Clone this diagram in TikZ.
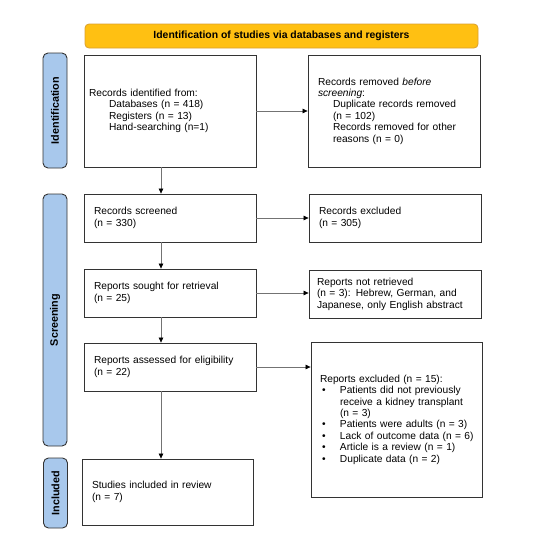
\documentclass[tikz,border=0pt]{standalone}
\usepackage{fontspec}
\setmainfont{Liberation Sans}
\usepackage{tikz}
\usetikzlibrary{arrows.meta,positioning,calc}
\definecolor{bannerfill}{HTML}{FFC012}
\definecolor{bannerline}{HTML}{D9A030}
\definecolor{barfill}{HTML}{A8C8EC}

\begin{document}
\begin{tikzpicture}[
    x=1pt, y=-1pt,
    stage/.style={draw=black!80, line width=0.8pt, fill=white, align=left, font=\fontsize{10.2}{11.4}\selectfont, inner xsep=10pt, text width=152pt, minimum height=48pt},
    phase/.style={draw=black!80, line width=0.9pt, fill=barfill, rounded corners=5pt, rotate=90, font=\bfseries\fontsize{10.8}{12}\selectfont, minimum height=24pt, inner sep=0pt},
    banner/.style={draw=bannerline, line width=0.8pt, fill=bannerfill, rounded corners=4pt, font=\bfseries\fontsize{10.4}{12}\selectfont, minimum width=393pt, minimum height=24pt},
    arr/.style={draw=black!55, line width=0.7pt, -{Triangle[length=5pt, width=4.5pt, color=black]}}
]
\useasboundingbox (0,0) rectangle (533,555);

\node[banner] (head) at (281.5,36) {Identification of studies via databases and registers};

\node[phase, minimum width=115pt] (idbar) at (55,110.5) {Identification};
\node[phase, minimum width=252pt] (scrbar) at (55,320) {Screening};
\node[phase, minimum width=70pt] (incbar) at (55.5,493) {Included};

\node[stage, inner xsep=5pt, text width=162pt, minimum height=112pt] (ident) at (170,111) {Records identified from:\\\hspace*{20pt}Databases (n = 418)\\\hspace*{20pt}Registers (n = 13)\\\hspace*{20pt}Hand-searching (n=1)};
\node[stage, minimum height=112pt] (removed) at (394,111) {Records removed \textit{before}\\\textit{screening}:\\\hspace*{15pt}Duplicate records removed\\\hspace*{15pt}(n = 102)\\\hspace*{15pt}Records removed for other\\\hspace*{15pt}reasons (n = 0)};

\node[stage] (screened) at (170,218) {Records screened\\(n = 330)};
\node[stage] (excluded) at (395,218) {Records excluded\\(n = 305)};

\node[stage] (sought) at (170,293) {Reports sought for retrieval\\(n = 25)};
\node[stage, inner xsep=8pt, text width=156pt] (notret) at (395,294) {Reports not retrieved\\(n = 3): Hebrew, German, and\\Japanese, only English abstract};

\node[stage] (assessed) at (170,367) {Reports assessed for eligibility\\(n = 22)};
\node[stage, inner xsep=9pt, text width=153pt, minimum height=155pt] (repexcl) at (396.5,419.5) {Reports excluded (n = 15):\\\makebox[20pt][l]{\hspace{2pt}\textbullet}Patients did not previously\\\hspace*{20pt}receive a kidney transplant\\\hspace*{20pt}(n = 3)\\\makebox[20pt][l]{\hspace{2pt}\textbullet}Patients were adults (n = 3)\\\makebox[20pt][l]{\hspace{2pt}\textbullet}\mbox{Lack of outcome data (n = 6)}\\\makebox[20pt][l]{\hspace{2pt}\textbullet}Article is a review (n = 1)\\\makebox[20pt][l]{\hspace{2pt}\textbullet}Duplicate data (n = 2)};

\node[stage, text width=151pt, minimum height=66pt] (included) at (167.5,492) {Studies included in review\\(n = 7)};

\draw[arr] (ident) -- (removed);
\draw[arr] ([xshift=-9pt]ident.south) -- ([xshift=-9pt]screened.north);
\draw[arr] (screened) -- (excluded);
\draw[arr] ([xshift=-9pt]screened.south) -- ([xshift=-9pt]sought.north);
\draw[arr] (sought.east) -- (sought.east -| notret.west);
\draw[arr] ([xshift=-9pt]sought.south) -- ([xshift=-9pt]assessed.north);
\draw[arr] (assessed.east) -- (assessed.east -| repexcl.west);
\draw[arr] ([xshift=-9pt]assessed.south) -- ([xshift=-6.5pt]included.north);
\end{tikzpicture}
\end{document}
